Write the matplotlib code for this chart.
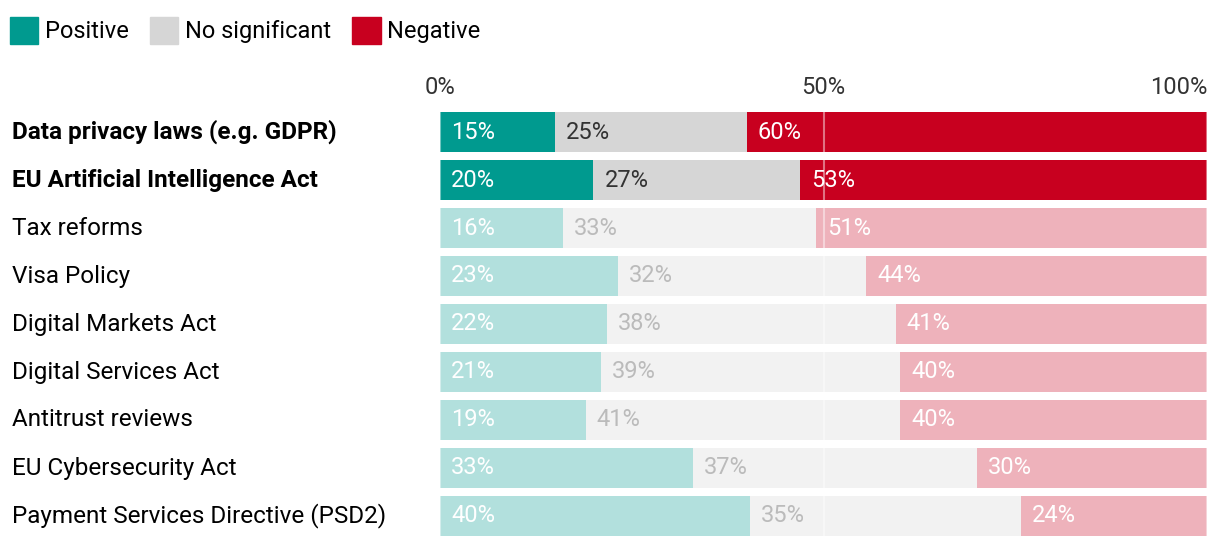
import numpy as np
import matplotlib
matplotlib.use('Agg')
import matplotlib.pyplot as plt
from matplotlib.patches import Patch
from matplotlib.transforms import blended_transform_factory

plt.rcParams['font.family'] = ['Roboto', 'DejaVu Sans']

# data
# ====

categories = ['Data privacy laws (e.g. GDPR)', 'EU Artificial Intelligence Act',
              'Tax reforms', 'Visa Policy', 'Digital Markets Act',
              'Digital Services Act', 'Antitrust reviews',
              'EU Cybersecurity Act', 'Payment Services Directive (PSD2)']
positive = [15, 20, 16, 23, 22, 21, 19, 33, 40]
no_signif = [25, 27, 33, 32, 38, 39, 41, 37, 35]
negative = [60, 53, 51, 44, 41, 40, 40, 30, 24]
highlight = [True, True, False, False, False, False, False, False, False]

series = ['Positive', 'No significant', 'Negative']
colors = ['#009a8f', '#d6d6d6', '#c8001f']
ticks = [0, 50, 100]

# figure
# ======

fig = plt.figure(figsize=(12.2, 5.46), dpi=100)
ax = fig.add_axes([440/1220, 6/546, 767/1220, 432/546])

vals = np.array([positive, no_signif, negative], dtype=float)
shares = vals / vals.sum(axis=0) * 100
y = np.arange(len(categories))

left = np.zeros(len(categories))
for k in range(3):
    for i in range(len(categories)):
        a = 1.0 if highlight[i] else 0.3
        ax.barh(y[i], shares[k, i], left=left[i], height=0.833,
                color=colors[k], alpha=a, lw=0)
        if k == 1:
            tc = '#333333' if highlight[i] else '#bbbbbb'
        else:
            tc = 'white'
        ax.annotate('%d%%' % vals[k, i], (left[i], y[i]), xytext=(11, 0),
                    textcoords='offset pixels', va='center', ha='left',
                    color=tc, fontsize=17)
    left += shares[k]

# guide lines over the bars
for t in ticks:
    ax.axvline(t, color='white', alpha=0.45, lw=1.5)

ax.set_xlim(0, 100)
ax.set_ylim(len(categories) - 0.5, -0.5)
ax.axis('off')

# tick labels on top
tr = blended_transform_factory(ax.transData, fig.transFigure)
for t, ha in zip(ticks, ['center', 'center', 'right']):
    ax.text(t, 1 - 88/546, '%d%%' % t, transform=tr, ha=ha, va='center',
            fontsize=17, color='#333333')

# category labels
tr2 = blended_transform_factory(fig.transFigure, ax.transData)
for i, c in enumerate(categories):
    ax.text(12/1220, y[i], c, transform=tr2, ha='left', va='center',
            fontsize=17.5, color='black',
            fontweight='bold' if highlight[i] else 'normal')

# legend
handles = [Patch(color=c, label=s) for c, s in zip(colors, series)]
fig.legend(handles=handles, loc='upper left', bbox_to_anchor=(0.0, 1 - 7/546),
           ncol=3, frameon=False, fontsize=17, handlelength=1.2,
           handleheight=1.4, handletextpad=0.28, columnspacing=0.9,
           borderaxespad=0, borderpad=0.42)

plt.savefig('out.png', dpi=100)
